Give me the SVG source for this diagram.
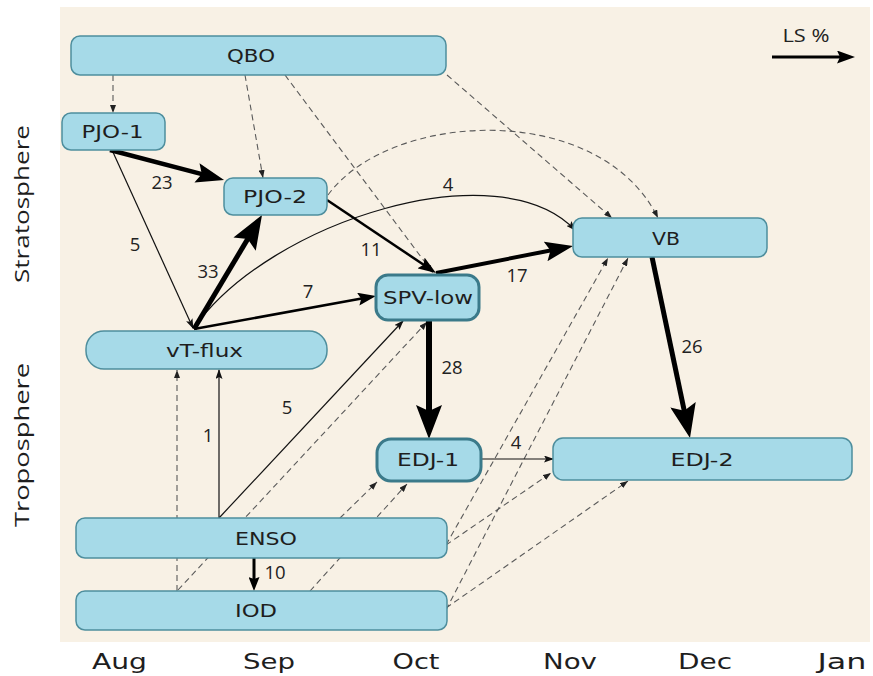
<svg xmlns="http://www.w3.org/2000/svg" width="873" height="676" viewBox="0 0 873 676">
<style>
.node rect{fill:#A6DAE8;stroke:#4E8E9D;stroke-width:1.5}
.node.bold rect{stroke:#3B7A8A;stroke-width:3}
.node text{font-family:"DejaVu Sans",Verdana,sans-serif;font-size:17px;fill:#1e1e1e;text-anchor:middle}
.d{fill:none;stroke:#5a5a5a;stroke-width:1.1;stroke-dasharray:6 4;marker-end:url(#mD)}
.t{fill:none;stroke:#111;stroke-width:1.2;marker-end:url(#mS)}
.k{fill:none;stroke:#000}
.lbl{font-family:"Open Sans","Liberation Sans",sans-serif;font-size:18.5px;fill:#222;text-anchor:middle}
.month{font-family:"DejaVu Sans",Verdana,sans-serif;font-size:21px;fill:#1e1e1e;text-anchor:middle}
.side{font-family:"Open Sans","Liberation Sans",sans-serif;font-size:20px;fill:#1e1e1e;text-anchor:middle}
</style>
<defs>
<marker id="mB" markerUnits="userSpaceOnUse" viewBox="0 0 34 26" markerWidth="34" markerHeight="26" refX="17" refY="13" orient="auto"><path d="M0,0 L34,13 L0,26 L6,13 z" fill="#000"/></marker>
<marker id="mB2" markerUnits="userSpaceOnUse" viewBox="0 0 28 20" markerWidth="28" markerHeight="20" refX="14" refY="10" orient="auto"><path d="M0,0 L28,10 L0,20 L5,10 z" fill="#000"/></marker>
<marker id="mM" markerUnits="userSpaceOnUse" viewBox="0 0 18 13" markerWidth="18" markerHeight="13" refX="9" refY="6.5" orient="auto"><path d="M0,0 L18,6.5 L0,13 L3,6.5 z" fill="#000"/></marker>
<marker id="mM10" markerUnits="userSpaceOnUse" viewBox="0 0 14 11" markerWidth="14" markerHeight="11" refX="7" refY="5.5" orient="auto"><path d="M0,0 L14,5.5 L0,11 L2,5.5 z" fill="#000"/></marker>
<marker id="mS" markerUnits="userSpaceOnUse" viewBox="0 0 10 7" markerWidth="10" markerHeight="7" refX="9" refY="3.5" orient="auto"><path d="M0,0 L10,3.5 L0,7 L2,3.5 z" fill="#111"/></marker>
<marker id="mD" markerUnits="userSpaceOnUse" viewBox="0 0 8 6" markerWidth="8" markerHeight="6" refX="8" refY="3" orient="auto"><path d="M0,0 L8,3 L0,6 z" fill="#222"/></marker>
</defs>

<rect x="0" y="0" width="873" height="676" fill="#ffffff"/>
<rect x="60" y="7" width="810" height="635" fill="#F8F1E5"/>

<g id="connectors">
  <!-- dashed -->
  <path class="d" d="M113,75 L113,113"/>
  <path class="d" d="M245,75 L263,178"/>
  <path class="d" d="M285,75 L433,273"/>
  <path class="d" d="M447,75 L612,218"/>
  <path class="d" d="M328,195 C390,110 600,100 658,218"/>
  <path class="d" d="M177,591 L177,370"/>
  <path class="d" d="M178,590 L427,322"/>
  <path class="d" d="M340,518 L377,482"/>
  <path class="d" d="M310,591 L407,484"/>
  <path class="d" d="M446,545 L608,258"/>
  <path class="d" d="M446,610 L628,258"/>
  <path class="d" d="M446,545 L551,473"/>
  <path class="d" d="M446,608 L628,481"/>
  <!-- thin solid -->
  <path class="t" d="M112,150 L193,328"/>
  <path class="t" d="M219,518 L219,370"/>
  <path class="t" d="M219,518 L403,321"/>
  <path class="t" d="M481,459 L553,459"/>
  <path class="t" d="M194,328 C270,220 500,150 575,230"/>
  <!-- thick -->
  <path class="k" stroke-width="4.5" marker-end="url(#mB2)" d="M110,150 L210.5,176.4"/>
  <path class="k" stroke-width="5" marker-end="url(#mB)" d="M194,329 L253.3,229.6"/>
  <path class="k" stroke-width="2.5" marker-end="url(#mM)" d="M194,329 L367.1,297.6"/>
  <path class="k" stroke-width="2.5" marker-end="url(#mM)" d="M327,200 L428.5,268"/>
  <path class="k" stroke-width="4" marker-end="url(#mB2)" d="M436,273 L559.3,248.7"/>
  <path class="k" stroke-width="6" marker-end="url(#mB)" d="M429,320 L429,422"/>
  <path class="k" stroke-width="5" marker-end="url(#mB)" d="M652,257 L686.5,421.4"/>
  <path class="k" stroke-width="3" marker-end="url(#mM10)" d="M254,558 L254,584"/>
  <!-- legend arrow -->
  <path class="k" stroke-width="3" marker-end="url(#mM)" d="M772,57 L846,57"/>
</g>

<g id="edge-labels">
  <text class="lbl" x="162" y="189">23</text>
  <text class="lbl" x="135" y="251">5</text>
  <text class="lbl" x="208" y="278">33</text>
  <text class="lbl" x="448" y="191">4</text>
  <text class="lbl" x="371" y="256">11</text>
  <text class="lbl" x="308" y="298">7</text>
  <text class="lbl" x="517" y="282">17</text>
  <text class="lbl" x="452" y="374">28</text>
  <text class="lbl" x="692" y="353">26</text>
  <text class="lbl" x="287" y="414">5</text>
  <text class="lbl" x="208" y="442">1</text>
  <text class="lbl" x="516" y="449">4</text>
  <text class="lbl" x="275" y="579">10</text>
  <text class="lbl" x="806" y="42" textLength="47" lengthAdjust="spacingAndGlyphs">LS %</text>
</g>

<g id="nodes">
  <g id="QBO" class="node"><rect x="71" y="36" width="375" height="39" rx="9"/><text x="251" y="62" textLength="48" lengthAdjust="spacingAndGlyphs">QBO</text></g>
  <g id="PJO-1" class="node"><rect x="62" y="113" width="103" height="37" rx="9"/><text x="112.5" y="138" textLength="62" lengthAdjust="spacingAndGlyphs">PJO-1</text></g>
  <g id="PJO-2" class="node"><rect x="224" y="178" width="103" height="37" rx="9"/><text x="275" y="203" textLength="64" lengthAdjust="spacingAndGlyphs">PJO-2</text></g>
  <g id="VB" class="node"><rect x="573" y="218" width="194" height="39" rx="9"/><text x="666" y="245" textLength="28" lengthAdjust="spacingAndGlyphs">VB</text></g>
  <g id="SPV-low" class="node bold"><rect x="376" y="275" width="103" height="45" rx="12"/><text x="428" y="304" textLength="90" lengthAdjust="spacingAndGlyphs">SPV-low</text></g>
  <g id="vT-flux" class="node"><rect x="86" y="331" width="241" height="38" rx="18"/><text x="204.5" y="357" textLength="77" lengthAdjust="spacingAndGlyphs">vT-flux</text></g>
  <g id="EDJ-1" class="node bold"><rect x="377" y="439" width="104" height="42" rx="14"/><text x="428" y="466" textLength="62" lengthAdjust="spacingAndGlyphs">EDJ-1</text></g>
  <g id="EDJ-2" class="node"><rect x="553" y="438" width="299" height="42" rx="10"/><text x="702" y="466" textLength="63" lengthAdjust="spacingAndGlyphs">EDJ-2</text></g>
  <g id="ENSO" class="node"><rect x="76" y="518" width="371" height="40" rx="9"/><text x="266" y="545" textLength="62" lengthAdjust="spacingAndGlyphs">ENSO</text></g>
  <g id="IOD" class="node"><rect x="76" y="591" width="371" height="39" rx="9"/><text x="256" y="617" textLength="42" lengthAdjust="spacingAndGlyphs">IOD</text></g>
</g>

<g id="axis-labels">
  <text class="month" x="119.5" y="669" textLength="55" lengthAdjust="spacingAndGlyphs">Aug</text>
  <text class="month" x="269" y="669" textLength="52" lengthAdjust="spacingAndGlyphs">Sep</text>
  <text class="month" x="416" y="669" textLength="47" lengthAdjust="spacingAndGlyphs">Oct</text>
  <text class="month" x="570" y="669" textLength="54" lengthAdjust="spacingAndGlyphs">Nov</text>
  <text class="month" x="705" y="669" textLength="54" lengthAdjust="spacingAndGlyphs">Dec</text>
  <text class="month" x="842" y="669" textLength="49" lengthAdjust="spacingAndGlyphs">Jan</text>
  <text class="side" transform="translate(29,204) rotate(-90)" textLength="158" lengthAdjust="spacingAndGlyphs">Stratosphere</text>
  <text class="side" transform="translate(29,445) rotate(-90)" textLength="164" lengthAdjust="spacingAndGlyphs">Troposphere</text>
</g>
</svg>
